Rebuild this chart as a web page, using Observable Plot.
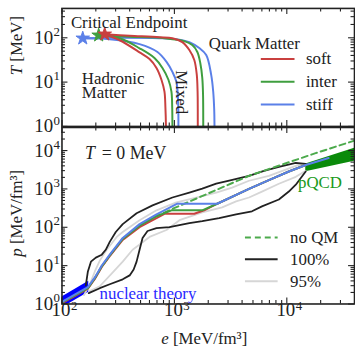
<!DOCTYPE html>
<html>
<head>
<meta charset="utf-8">
<script src="https://cdn.jsdelivr.net/npm/d3@7"></script>
<script src="https://cdn.jsdelivr.net/npm/@observablehq/plot@0.6"></script>
<style>
  html, body { margin: 0; padding: 0; background: #fff; }
  body { width: 355px; height: 352px; overflow: hidden; position: relative; }
  #phase, #eos { position: absolute; left: 0; }
  #phase { top: 0; }
  #eos { top: 125px; }
</style>
</head>
<body>
<div id="phase"></div>
<div id="eos"></div>
<script>
const FONT = '"Liberation Serif", "DejaVu Serif", serif';

// ---------- quark-matter models ----------
const eosNames = ["soft", "inter", "stiff"];
const eosColors = ["#c9403f", "#3f9e3f", "#5b80e8"];

// critical endpoints (mu_B [MeV], T [MeV])
const endpointMu = [240, 212, 153];
const endpointT = [120, 114, 97.5];

// hadronic-side boundaries of the mixed phase
const softHadronMu = [240, 326, 490, 601, 693, 767, 816, 832, 841, 841];
const softHadronT = [120, 88, 47, 33.2, 20.9, 11.3, 6.07, 2.66, 1.0, 0.5];
const interHadronMu = [212, 326, 490, 665, 783, 885, 941, 956, 960, 960];
const interHadronT = [114, 97.5, 58, 35, 20.9, 11.3, 6.07, 2.66, 1.0, 0.5];
const stiffHadronMu = [153, 266, 490, 707, 851, 960, 1042, 1078, 1085, 1085];
const stiffHadronT = [97.5, 92.5, 72, 47.7, 28.5, 17, 10.2, 4.02, 1.86, 0.5];

// quark-side boundaries of the mixed phase
const softQuarkMu = [240, 400, 736, 960, 1177, 1358, 1503, 1582, 1608, 1614, 1614];
const softQuarkT = [120, 111.5, 103, 97.5, 79.8, 52.9, 31.6, 14.6, 6.07, 2.4, 0.5];
const interQuarkMu = [212, 400, 816, 1226, 1443, 1600, 1699, 1770, 1798, 1806, 1806];
const interQuarkT = [114, 106, 97.5, 84, 68.4, 47.7, 27, 12.5, 5.2, 1.0, 0.5];
const stiffQuarkMu = [153, 326, 736, 1110, 1358, 1665, 1919, 2125, 2215, 2260, 2273, 2273];
const stiffQuarkT = [97.5, 100, 97.5, 90.8, 79.8, 58.6, 40.8, 14.6, 6.07, 2.4, 1.0, 0.5];

// ---------- T = 0 equation of state, e [MeV/fm^3] vs p [MeV/fm^3] ----------
const nuclearE = [100, 173];
const nuclearLow = [0.79, 2.03];
const nuclearHigh = [1.51, 3.9];

const pqcdE = [14730, 40000];
const pqcdLow = [2785, 5300];
const pqcdHigh = [4470, 11500];

const softE = [100, 170, 196, 226, 266, 347, 490, 693, 816, 1503, 1843, 2403, 4610, 6930, 10420, 14730];
const softP = [1.05, 2.5, 4.5, 9.2, 17.6, 46.9, 101, 172, 225, 225, 277, 411, 1000, 1700, 2850, 4215];
const interE = [100, 170, 196, 226, 266, 347, 490, 693, 941, 1770, 2403, 4610, 6930, 10420, 14730];
const interP = [1.1, 2.6, 4.7, 9.6, 18.4, 49.8, 110, 194, 277, 277, 411, 1000, 1700, 2850, 4215];
const stiffE = [100, 170, 196, 226, 266, 347, 490, 693, 1063, 2403, 4610, 6930, 10420, 14730, 23540];
const stiffP = [1.13, 2.74, 4.94, 10.07, 19.3, 52.8, 120.8, 218, 411, 411, 1000, 1700, 2850, 4215, 6380];

// model without a quark-matter phase transition
const noQmE = [100, 170, 196, 226, 266, 347, 490, 693, 941, 4610, 18060, 40000];
const noQmP = [1.1, 2.6, 4.7, 9.6, 18.4, 49.8, 110, 194, 294, 2198, 8570, 18200];

// 100% envelope
const env100UpperE = [163, 170, 181, 200, 226, 245, 266, 301, 347, 461, 639, 960, 1358, 1770, 2354, 3070, 3800, 4610, 6260, 8500, 12020, 14730];
const env100UpperP = [3.08, 7.05, 12.7, 16.2, 19.3, 25.9, 41.7, 75.3, 121, 232, 372, 597, 803, 1018, 1368, 1634, 1900, 2198, 2953, 3745, 4745, 4470];
const env100LowerE = [173, 217, 266, 347, 400, 434, 461, 490, 521, 577, 693, 903, 1358, 1770, 2500, 3540, 4900, 6010, 8500, 10420, 12020, 13580, 14730];
const env100LowerP = [1.92, 2.58, 3.27, 4.39, 5.57, 7.94, 12.7, 25.9, 52.8, 79.9, 95.3, 101, 128, 144, 172, 218, 261, 351, 531, 853, 1290, 2070, 2850];

// 95% envelope
const env95UpperE = [157, 177, 196, 217, 250, 307, 347, 490, 693, 1042, 1566, 2354, 3260, 4610, 6930, 12020, 14730];
const env95UpperP = [1.7, 3.27, 7.05, 13.5, 25.9, 56, 75.3, 153, 277, 444, 597, 803, 1080, 1634, 2198, 3972, 4215];
const env95LowerE = [177, 217, 283, 347, 425, 601, 850, 1110, 1770, 2660, 3540, 4610, 6010, 8500, 12020, 14730];
const env95LowerP = [2.16, 2.9, 6.65, 12.7, 25.9, 56, 84.7, 153, 246, 331, 472, 597, 853, 1368, 2070, 2953];

// tick decades
const muExponents = [2, 3, 4];
const tExponents = [0, 1, 2];
const pExponents = [0, 1, 2, 3, 4];

const muDomain = [100, 40000];
const tDomain = [1, 460];
const pDomain = [1, 40000];

// ---------- helpers ----------
const rows = (xs, ys) => xs.map((x, i) => ({x, y: ys[i]}));
const minorsOf = (exps, [lo, hi]) =>
  exps.flatMap(k => [2, 3, 4, 5, 6, 7, 8, 9].map(m => m * 10 ** k)).filter(v => v > lo && v < hi);

const INK = "#222";
const W = 358, ML = 62, MR = 1;
const innerW = W - ML - MR;

function frameTicks(xMaj, xMin, yMaj, yMin, innerH) {
  const s = {stroke: INK, strokeWidth: 1.1};
  const big = 6, small = 3.5;
  return [
    Plot.tickX(xMaj, {x: d => d, insetTop: innerH - big, ...s}),
    Plot.tickX(xMaj, {x: d => d, insetBottom: innerH - big, ...s}),
    Plot.tickX(xMin, {x: d => d, insetTop: innerH - small, ...s}),
    Plot.tickX(xMin, {x: d => d, insetBottom: innerH - small, ...s}),
    Plot.tickY(yMaj, {y: d => d, insetRight: innerW - big, ...s}),
    Plot.tickY(yMaj, {y: d => d, insetLeft: innerW - big, ...s}),
    Plot.tickY(yMin, {y: d => d, insetRight: innerW - small, ...s}),
    Plot.tickY(yMin, {y: d => d, insetLeft: innerW - small, ...s})
  ];
}

function yTickLabels(exps) {
  return [
    Plot.text(exps, {y: d => 10 ** d, text: () => "10", frameAnchor: "left", textAnchor: "end", dx: -9, fontSize: 19, fill: INK}),
    Plot.text(exps, {y: d => 10 ** d, text: d => `${d}`, frameAnchor: "left", textAnchor: "end", dx: -2, dy: -6, fontSize: 13, fill: INK})
  ];
}

function xTickLabels(exps) {
  return [
    Plot.text(exps, {x: d => 10 ** d, text: () => "10", frameAnchor: "bottom", dx: -1, dy: 12, fontSize: 19, fill: INK}),
    Plot.text(exps, {x: d => 10 ** d, text: d => `${d}`, frameAnchor: "bottom", textAnchor: "start", dx: 9, dy: 6, fontSize: 13, fill: INK})
  ];
}

function axisTitle(svg, x, y, rotate, parts) {
  const t = d3.select(svg).append("text")
    .attr("transform", `translate(${x},${y}) rotate(${rotate})`)
    .attr("text-anchor", "middle")
    .attr("font-family", FONT)
    .attr("font-size", 17)
    .attr("fill", INK);
  for (const [str, italic] of parts) {
    t.append("tspan").attr("font-style", italic ? "italic" : "normal").text(str);
  }
}

const baseStyle = {background: "transparent", overflow: "visible", fontFamily: FONT, fontSize: "17px", color: INK};

// ---------- upper panel: phase diagram ----------
const hadron = [rows(softHadronMu, softHadronT), rows(interHadronMu, interHadronT), rows(stiffHadronMu, stiffHadronT)];
const quark = [rows(softQuarkMu, softQuarkT), rows(interQuarkMu, interQuarkT), rows(stiffQuarkMu, stiffQuarkT)];
const drawOrder = [2, 1, 0];

const phase = Plot.plot({
  width: W, height: 129,
  marginLeft: ML, marginRight: MR, marginTop: 8, marginBottom: 2,
  style: baseStyle,
  x: {type: "log", domain: muDomain, axis: null},
  y: {type: "log", domain: tDomain, axis: null},
  marks: [
    ...drawOrder.flatMap(i => [
      Plot.line(hadron[i], {x: "x", y: "y", stroke: eosColors[i], strokeWidth: 2, curve: "catmull-rom", clip: true}),
      Plot.line(quark[i], {x: "x", y: "y", stroke: eosColors[i], strokeWidth: 2, curve: "catmull-rom", clip: true})
    ]),
    Plot.dot(drawOrder, {x: i => endpointMu[i], y: i => endpointT[i], symbol: "star", r: 4.3,
      fill: i => eosColors[i], stroke: i => eosColors[i], strokeWidth: 1}),
    Plot.text(["Critical Endpoint"], {x: 120, y: 224, textAnchor: "start", fontSize: 17, fill: INK}),
    Plot.text(["Hadronic"], {x: 150, y: 11.9, textAnchor: "start", fontSize: 17, fill: INK}),
    Plot.text(["Matter"], {x: 150, y: 5.77, textAnchor: "start", fontSize: 17, fill: INK}),
    Plot.text(["Mixed"], {x: 1144, y: 5.9, rotate: 90, fontSize: 17, fill: INK}),
    Plot.text(["Quark Matter"], {x: 5140, y: 75.8, fontSize: 17, fill: INK}),
    // legend
    Plot.ruleY(eosNames, {y: (d, i) => [33.2, 10.2, 3.11][i], x1: 5930, x2: 11830, stroke: (d, i) => eosColors[i], strokeWidth: 2}),
    Plot.text(eosNames, {y: (d, i) => [33.2, 10.2, 3.11][i], x: 14790, text: d => d, textAnchor: "start", fontSize: 17, fill: INK}),
    ...frameTicks(muExponents.map(k => 10 ** k), minorsOf(muExponents, muDomain),
                  tExponents.map(k => 10 ** k), minorsOf(tExponents, tDomain), 119),
    Plot.frame({stroke: INK, strokeWidth: 1.6}),
    ...yTickLabels(tExponents)
  ],
  color: {type: "identity"}
});
axisTitle(phase, 22, 46, -90, [["T", true], [" [MeV]", false]]);
document.getElementById("phase").append(phase);

// ---------- lower panel: T = 0 equation of state ----------
const band = (xs, lo, hi) => xs.map((x, i) => ({x, lo: lo[i], hi: hi[i]}));
const eosLines = [rows(softE, softP), rows(interE, interP), rows(stiffE, stiffP)];

const legendP = [54, 14.6, 3.93];
const eos = Plot.plot({
  width: W, height: 227,
  marginLeft: ML, marginRight: MR, marginTop: 2, marginBottom: 47,
  style: baseStyle,
  x: {type: "log", domain: muDomain, axis: null},
  y: {type: "log", domain: pDomain, axis: null},
  color: {type: "identity"},
  marks: [
    Plot.areaY(band(nuclearE, nuclearLow, nuclearHigh), {x: "x", y1: "lo", y2: "hi", fill: "#0000ff", clip: true}),
    Plot.areaY(band(pqcdE, pqcdLow, pqcdHigh), {x: "x", y1: "lo", y2: "hi", fill: "#0a8a0a", clip: true}),
    Plot.line(rows(env95UpperE, env95UpperP), {x: "x", y: "y", stroke: "#d6d6d6", strokeWidth: 1.8, clip: true}),
    Plot.line(rows(env95LowerE, env95LowerP), {x: "x", y: "y", stroke: "#d6d6d6", strokeWidth: 1.8, clip: true}),
    Plot.line(rows(env100UpperE, env100UpperP), {x: "x", y: "y", stroke: INK, strokeWidth: 1.8, clip: true}),
    Plot.line(rows(env100LowerE, env100LowerP), {x: "x", y: "y", stroke: INK, strokeWidth: 1.8, clip: true}),
    Plot.line(rows(noQmE, noQmP), {x: "x", y: "y", stroke: "#4caa4c", strokeWidth: 2, strokeDasharray: "6,4", clip: true}),
    ...[0, 1, 2].map(i => Plot.line(eosLines[i], {x: "x", y: "y", stroke: eosColors[i], strokeWidth: 2, clip: true})),
    Plot.text(["T"], {x: 160, y: 8510, textAnchor: "start", fontStyle: "italic", fontSize: 18, fill: INK}),
    Plot.text(["= 0 MeV"], {x: 160, y: 8510, textAnchor: "start", dx: 17, fontSize: 18, fill: INK}),
    Plot.text(["pQCD"], {x: 12570, y: 1426, textAnchor: "start", fontSize: 17, fill: "#1a9a1a"}),
    Plot.text(["nuclear theory"], {x: 216, y: 1.92, textAnchor: "start", fontSize: 17, fill: "#2a2aff"}),
    // legend
    Plot.ruleY([0], {y: legendP[0], x1: 4285, x2: 8370, stroke: "#4caa4c", strokeWidth: 2, strokeDasharray: "6,4"}),
    Plot.ruleY([1], {y: legendP[1], x1: 4285, x2: 8370, stroke: INK, strokeWidth: 2}),
    Plot.ruleY([2], {y: legendP[2], x1: 4285, x2: 8370, stroke: "#d6d6d6", strokeWidth: 2}),
    Plot.text(["no QM", "100%", "95%"], {y: (d, i) => legendP[i], x: 10690, text: d => d, textAnchor: "start", fontSize: 17, fill: INK}),
    ...frameTicks(muExponents.map(k => 10 ** k), minorsOf(muExponents, muDomain),
                  pExponents.map(k => 10 ** k), minorsOf(pExponents, pDomain), 178),
    Plot.frame({stroke: INK, strokeWidth: 1.6}),
    ...yTickLabels(pExponents),
    ...xTickLabels(muExponents)
  ]
});
axisTitle(eos, 22, 89, -90, [["p", true], [" [MeV/fm³]", false]]);
axisTitle(eos, 206, 221, 0, [["e", true], [" [MeV/fm³]", false]]);
document.getElementById("eos").append(eos);
</script>
</body>
</html>
